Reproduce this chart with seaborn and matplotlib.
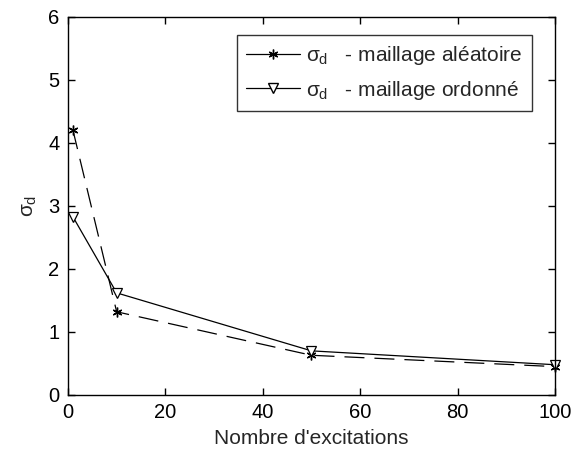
import numpy as np
import pandas as pd
import seaborn as sns
import matplotlib.pyplot as plt
from matplotlib.lines import Line2D

# data
n_excit = [1, 10, 50, 100]
sigma_aleatoire = [4.21, 1.32, 0.63, 0.45]
sigma_ordonne = [2.83, 1.62, 0.70, 0.48]
labels = [r"$\sigma_{\rm d}$   - maillage aléatoire", r"$\sigma_{\rm d}$   - maillage ordonné"]

sns.set_theme(style="white")
plt.rcParams['font.family'] = ['Liberation Sans', 'DejaVu Sans']
plt.rcParams['mathtext.fontset'] = 'custom'
plt.rcParams['mathtext.rm'] = 'Liberation Sans'
plt.rcParams['mathtext.it'] = 'Liberation Sans'

fig = plt.figure(figsize=(5.71, 4.54), dpi=100)
ax = fig.add_axes([0.119, 0.130, 0.853, 0.833])

# random mesh: dashed line with asterisks
sns.lineplot(x=n_excit, y=sigma_aleatoire, color="black", linewidth=0.9,
             marker=(6, 2, 0), markersize=7, clip_on=False,
             markeredgewidth=1, markeredgecolor="black", ax=ax)
# ordered mesh: solid line with open triangles
sns.lineplot(x=n_excit, y=sigma_ordonne, color="black", linewidth=0.9,
             marker="v", markersize=7, markeredgewidth=0.9, clip_on=False,
             markerfacecolor="white", markeredgecolor="black", ax=ax)
ax.lines[0].set_linestyle((0, (16, 8)))

ax.set_xlim(0, 100)
ax.set_ylim(0, 6)
ax.set_xticks([0, 20, 40, 60, 80, 100])
ax.set_yticks(range(0, 7))
ax.tick_params(direction="in", length=5, width=1, labelsize=14.5, colors="black",
               top=True, right=True, bottom=True, left=True, pad=6)
for sp in ax.spines.values():
    sp.set_color("black")
    sp.set_linewidth(1)

ax.set_xlabel("Nombre d'excitations", fontsize=15, labelpad=5)
ax.set_ylabel(r"$\sigma_{\rm d}$", fontsize=15, labelpad=7)

handles = [
    Line2D([], [], color="black", lw=0.9, marker=(6, 2, 0), markersize=7, markeredgecolor="black"),
    Line2D([], [], color="black", lw=0.9, marker="v", markersize=7, markerfacecolor="white", markeredgecolor="black"),
]
leg = ax.legend(handles, labels, loc="upper right", bbox_to_anchor=(0.953, 0.952),
                borderaxespad=0, fontsize=15, frameon=True, fancybox=False, edgecolor="black",
                handlelength=2.6, borderpad=0.45, labelspacing=0.55, handletextpad=0.3)
leg.get_frame().set_linewidth(1)

plt.savefig("out.png", dpi=100)
